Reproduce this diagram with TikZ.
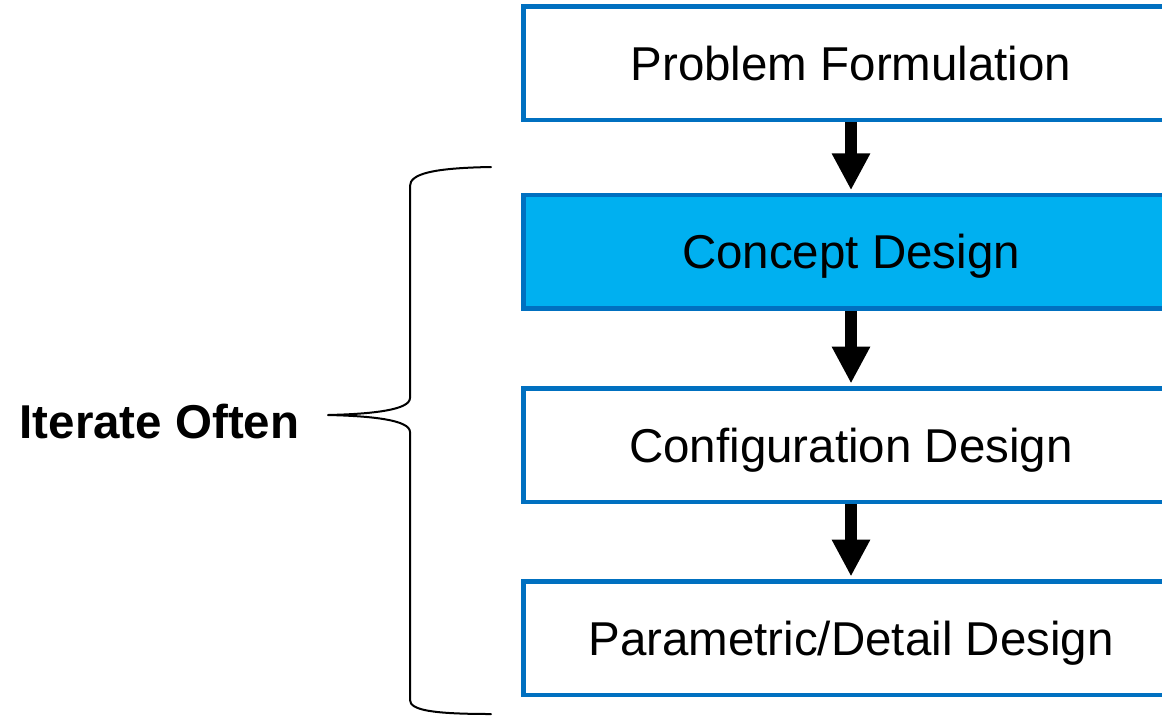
\documentclass[tikz,border=0pt]{standalone}
\usepackage{fontspec}
\setmainfont{Liberation Sans}
\usetikzlibrary{arrows.meta}
\definecolor{stageborder}{HTML}{0070C0}
\definecolor{stagefill}{HTML}{00B0F0}
\tikzset{
  stagebox/.style={draw=stageborder, line width=4.5pt, fill=white,
    minimum width=655pt, minimum height=113.5pt, inner sep=0pt,
    text height=34pt, text depth=0pt,
    font=\fontsize{47.5}{57}\selectfont},
  flowarrow/.style={line width=12pt, -{Triangle[width=36pt,length=37pt]},
    shorten >=2.5pt},
  bracepath/.style={line width=2pt, line cap=round, line join=round},
}
\begin{document}
\begin{tikzpicture}[x=1pt,y=-1pt]
  \useasboundingbox (0,0) rectangle (1162,716);
  \clip (0,0) rectangle (1162,716);
  % design stages
  \node[stagebox] (prob) at (851,63.25) {Problem Formulation};
  \node[stagebox, fill=stagefill] (concept) at (851,251.75) {Concept Design};
  \node[stagebox] (config) at (851,445) {Configuration Design};
  \node[stagebox] (detail) at (851,638) {Parametric/Detail Design};
  % flow between stages
  \draw[flowarrow] (prob.south) -- (concept.north);
  \draw[flowarrow] (concept.south) -- (config.north);
  \draw[flowarrow] (config.south) -- (detail.north);
  % iteration brace
  \coordinate (bracetip) at (328,415);
  \draw[bracepath] (491,167) .. controls (432,168) and (410,174) .. (410,186)
    -- (410,398) .. controls (410,410) and (372,414) .. (bracetip)
    .. controls (372,416) and (410,420) .. (410,432)
    -- (410,700) .. controls (410,710) and (432,714) .. (491,714);
  \node[font=\fontsize{47.5}{57}\selectfont\bfseries, text height=34pt,
    text depth=0pt, inner sep=0pt, anchor=center] (iter) at (159.5,421) {Iterate Often};
\end{tikzpicture}
\end{document}
